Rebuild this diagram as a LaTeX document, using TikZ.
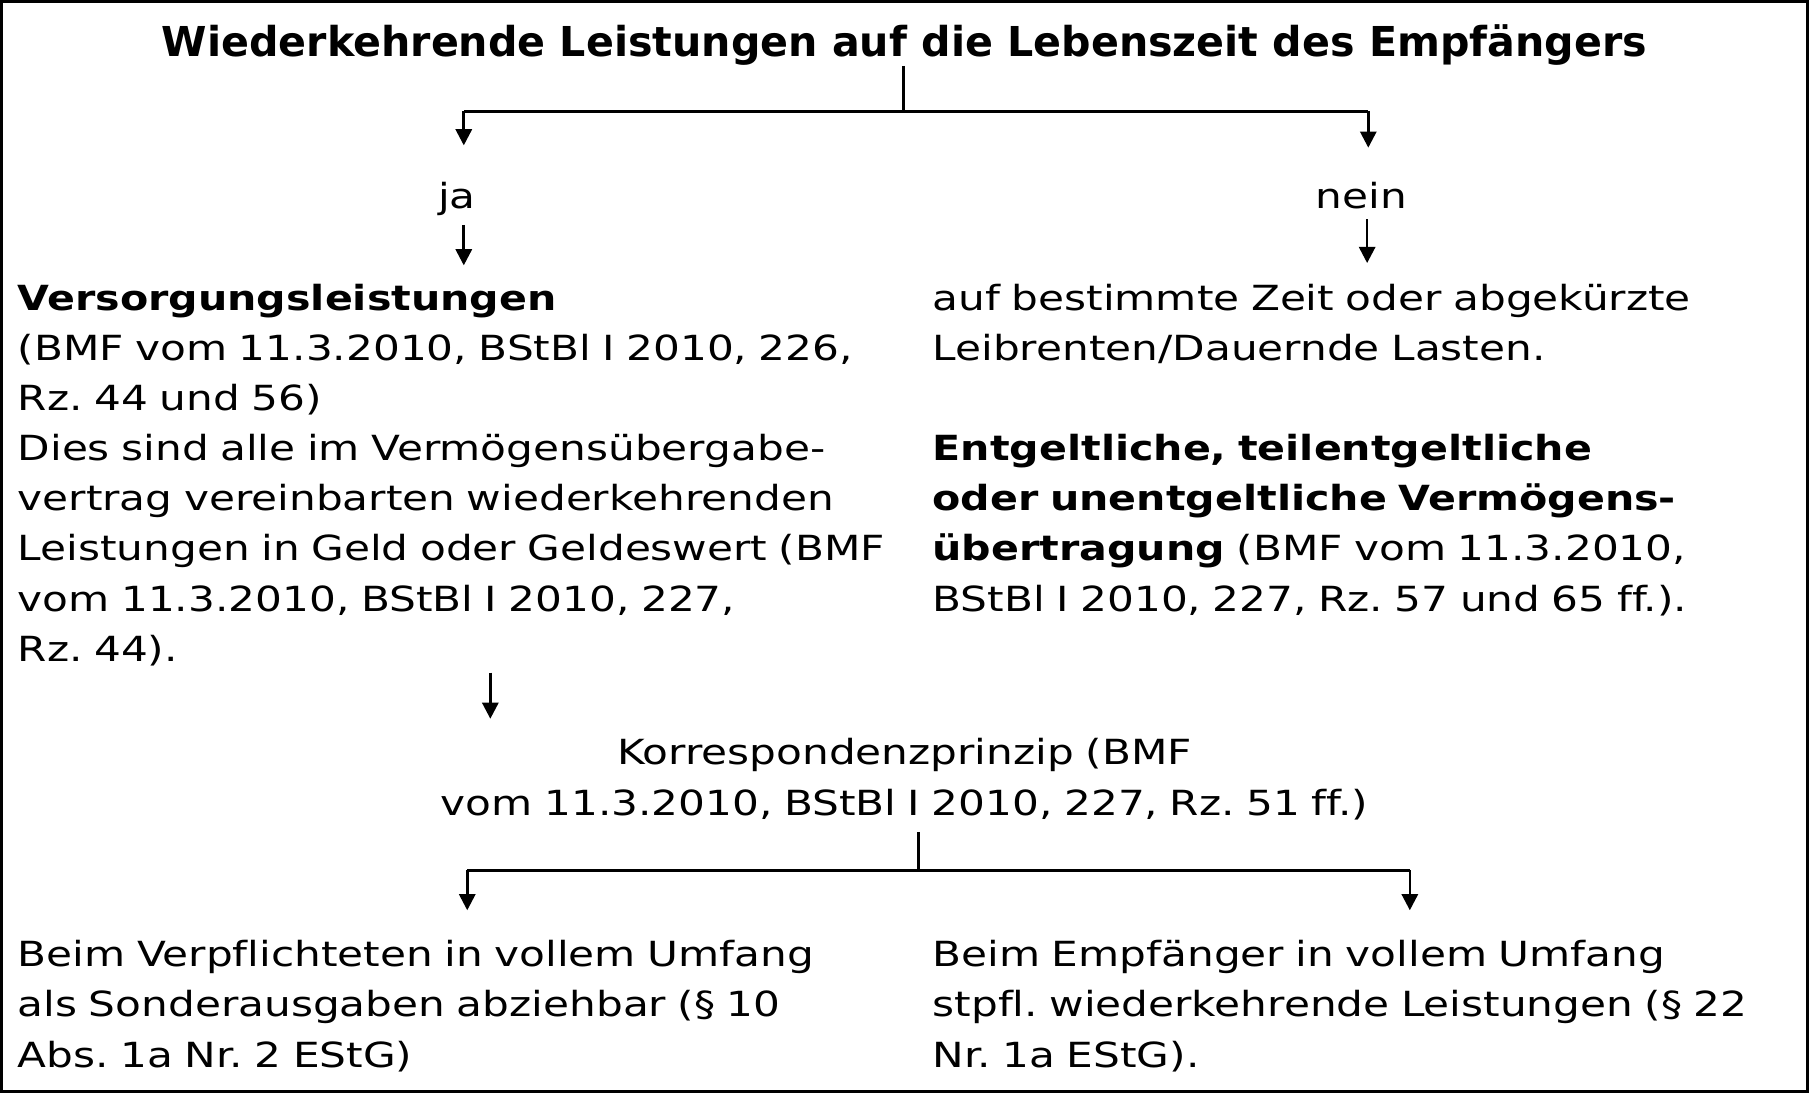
\documentclass[tikz,border=0pt]{standalone}
\usepackage{fontspec}
\setmainfont{DejaVu Sans}[FakeStretch=1.22,Ligatures=NoCommon]
\newfontfamily\titlefont{DejaVu Sans Bold}[FakeStretch=1.0,Ligatures=NoCommon]
\newfontfamily\boldbody{DejaVu Sans Bold}[FakeStretch=1.19,Ligatures=NoCommon]
\newcommand\bb[1]{{\boldbody #1}}
\usetikzlibrary{arrows.meta}
\frenchspacing
\tikzset{
  bodyfont/.style={font=\fontsize{15pt}{21.75pt}\selectfont},
  txt/.style={bodyfont, inner sep=0pt, anchor=base west, align=left, text width=420pt},
  ctr/.style={bodyfont, inner sep=0pt, anchor=base, align=center, text width=500pt},
  lbl/.style={bodyfont, inner sep=0pt, anchor=base},
  ttl/.style={font=\titlefont\fontsize{17.85pt}{20pt}\selectfont, inner sep=0pt, anchor=base},
  vline/.style={line width=1.15pt},
  hline/.style={line width=1.4pt},
  arr/.style={vline, -{Triangle[width=7pt,length=7pt]}},
}
\begin{document}
\begin{tikzpicture}[x=0.5pt,y=-0.5pt]
\useasboundingbox (0,0) rectangle (1568,947);
\draw[line width=1.2pt] (1.2,1.2) rectangle (1566.8,945.8);

% texts
\node[ttl] (title) at (784,49) {Wiederkehrende Leistungen auf die Lebenszeit des Empfängers};
\node[lbl] (ja) at (396,180.5) {ja};
\node[lbl] (nein) at (1180,180.5) {nein};
\node[txt] (vers) at (15,268.7) {\bb{Versorgungsleistungen}\\
(BMF vom 11.3.2010, BStBl I 2010, 226,\\
Rz. 44 und 56)\\
Dies sind alle im Vermögensübergabe-\\
vertrag vereinbarten wiederkehrenden\\
Leistungen in Geld oder Geldeswert (BMF\\
vom 11.3.2010, BStBl I 2010, 227,\\
Rz. 44).};
\node[txt] (zeit) at (808,268.7) {auf bestimmte Zeit oder abgekürzte\\
Leibrenten/Dauernde Lasten.};
\node[txt] (entg) at (808,399.2) {\bb{Entgeltliche, teilentgeltliche}\\
\bb{oder unentgeltliche Vermögens-}\\
\bb{übertragung} (BMF vom 11.3.2010,\\
BStBl I 2010, 227, Rz. 57 und 65 ff.).};
\node[ctr] (korr) at (784,663) {Korrespondenzprinzip (BMF\\
vom 11.3.2010, BStBl I 2010, 227, Rz. 51 ff.)};
\node[txt] (verpf) at (15,838) {Beim Verpflichteten in vollem Umfang\\
als Sonderausgaben abziehbar (§ 10\\
Abs. 1a Nr. 2 EStG)};
\node[txt] (empf) at (808,838) {Beim Empfänger in vollem Umfang\\
stpfl. wiederkehrende Leistungen (§ 22\\
Nr. 1a EStG).};

% branch points
\coordinate (t0) at (783,57);
\coordinate (t1) at (783,96.5);
\coordinate (tl) at (402,96.5);
\coordinate (tr) at (1186,96.5);
\coordinate (tlB) at (402,126);
\coordinate (trB) at (1186,128);
\coordinate (jaA) at (402,195);
\coordinate (jaB) at (402,230);
\coordinate (neinA) at (1185,190);
\coordinate (neinB) at (1185,228);
\coordinate (vA) at (425,583);
\coordinate (vB) at (425,623);
\coordinate (k0) at (796,721);
\coordinate (k1) at (796,754.5);
\coordinate (kl) at (405,754.5);
\coordinate (kr) at (1222,754.5);
\coordinate (klB) at (405,789);
\coordinate (krB) at (1222,789);

% connectors
\draw[vline] (t0) -- (t1);
\draw[hline] (tl) -- (tr);
\draw[arr] (tl) -- (tlB);
\draw[arr] (tr) -- (trB);
\draw[arr] (jaA) -- (jaB);
\draw[arr] (neinA) -- (neinB);
\draw[arr] (vA) -- (vB);
\draw[vline] (k0) -- (k1);
\draw[hline] (kl) -- (kr);
\draw[arr] (kl) -- (klB);
\draw[arr] (kr) -- (krB);
\end{tikzpicture}
\end{document}
